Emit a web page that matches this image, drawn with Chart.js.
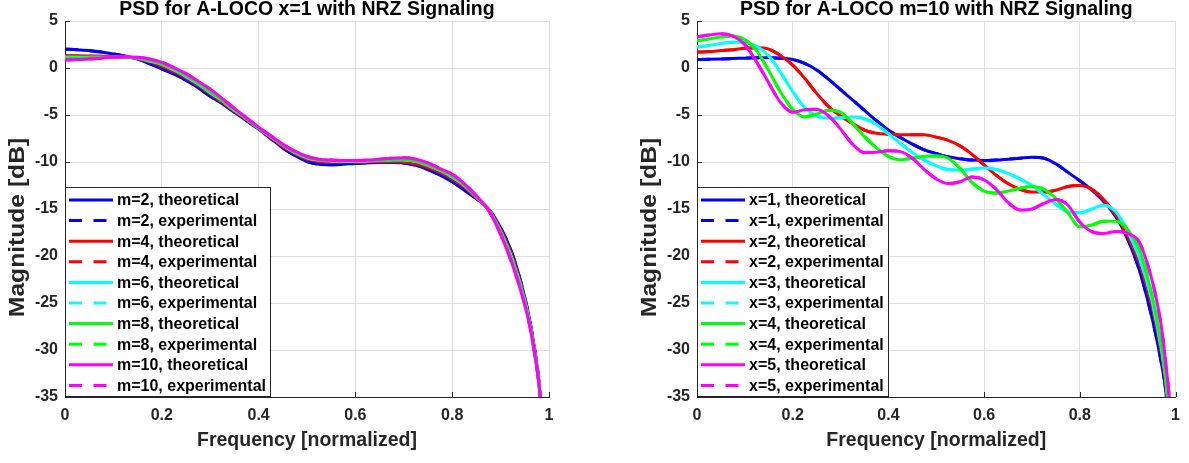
<!DOCTYPE html>
<html>
<head>
<meta charset="utf-8">
<script src="https://cdn.jsdelivr.net/npm/chart.js@4.4.1/dist/chart.umd.min.js"></script>
<style>
  html, body { margin: 0; padding: 0; background: #fff; }
  #wrap { position: relative; width: 1189px; height: 463px; }
  #left { position: absolute; left: 0; top: 0; }
  #right { position: absolute; left: 600px; top: 0; }
</style>
</head>
<body>
<div id="wrap">
  <canvas id="left" width="600" height="463"></canvas>
  <canvas id="right" width="589" height="463"></canvas>
</div>
<script>
// normalized frequency grid shared by every curve
const freq = [0, 0.025, 0.05, 0.075, 0.1, 0.125, 0.15, 0.175, 0.2, 0.225, 0.25, 0.275, 0.3, 0.325, 0.35, 0.375,
  0.4, 0.425, 0.45, 0.475, 0.5, 0.525, 0.55, 0.575, 0.6, 0.625, 0.65, 0.675, 0.7, 0.725, 0.75, 0.775,
  0.8, 0.825, 0.85, 0.875, 0.9, 0.925, 0.95, 0.96, 0.97, 0.98, 0.99, 0.995];

const xTicks = [0, 0.2, 0.4, 0.6, 0.8, 1];
const yTicks = [5, 0, -5, -10, -15, -20, -25, -30, -35];

// left panel: x=1, varying m (dB)
const m2 = [2.0, 1.95, 1.85, 1.7, 1.5, 1.25, 0.95, 0.45, -0.1, -0.65, -1.3, -2.1, -3.0, -3.8, -4.7, -5.6,
  -6.5, -7.5, -8.5, -9.3, -9.95, -10.25, -10.3, -10.25, -10.15, -10.1, -10.05, -10.05, -10.1, -10.35, -10.8, -11.4,
  -12.1, -13.0, -13.9, -15.0, -17.0, -19.9, -24.4, -26.8, -29.8, -33.8, -41, -47];
const m4 = [1.3, 1.3, 1.28, 1.25, 1.22, 1.15, 1.0, 0.65, 0.2, -0.4, -1.05, -1.85, -2.75, -3.65, -4.6, -5.5,
  -6.45, -7.4, -8.35, -9.1, -9.7, -9.95, -10.0, -10.0, -10.0, -10.0, -9.98, -9.95, -10.0, -10.2, -10.6, -11.1,
  -11.8, -12.7, -13.8, -15.05, -17.2, -20.2, -24.6, -27.0, -30.0, -34.0, -41, -47];
const m6 = [1.15, 1.15, 1.15, 1.15, 1.15, 1.15, 1.05, 0.75, 0.4, -0.2, -0.9, -1.7, -2.6, -3.5, -4.5, -5.4,
  -6.4, -7.3, -8.2, -9.0, -9.55, -9.8, -9.9, -9.95, -9.95, -9.9, -9.85, -9.8, -9.8, -9.95, -10.35, -10.9,
  -11.6, -12.5, -13.7, -15.1, -17.4, -20.5, -24.8, -27.1, -30.1, -34.0, -40.5, -47];
const m8 = [1.05, 1.05, 1.08, 1.12, 1.15, 1.15, 1.08, 0.8, 0.45, -0.1, -0.8, -1.6, -2.5, -3.45, -4.45, -5.4,
  -6.4, -7.3, -8.2, -8.95, -9.5, -9.75, -9.85, -9.9, -9.9, -9.85, -9.8, -9.75, -9.75, -9.9, -10.3, -10.85,
  -11.5, -12.45, -13.7, -15.1, -17.5, -20.7, -25.0, -27.2, -30.2, -34.0, -40.5, -47];
const m10 = [0.85, 0.9, 0.95, 1.05, 1.15, 1.2, 1.15, 0.95, 0.6, 0.05, -0.6, -1.4, -2.25, -3.25, -4.3, -5.3,
  -6.3, -7.2, -8.1, -8.85, -9.4, -9.7, -9.8, -9.85, -9.85, -9.8, -9.7, -9.6, -9.55, -9.7, -10.1, -10.7,
  -11.3, -12.3, -13.6, -15.15, -17.7, -21.0, -25.2, -27.4, -30.3, -34.0, -40, -46];

// right panel: m=10, varying x (dB)
const x1 = [0.9, 0.92, 0.95, 1.0, 1.05, 1.1, 1.1, 1.05, 0.9, 0.5, -0.2, -1.2, -2.3, -3.4, -4.5, -5.6,
  -6.6, -7.4, -8.1, -8.7, -9.1, -9.45, -9.65, -9.8, -9.85, -9.8, -9.7, -9.6, -9.5, -9.6, -10.2, -11.1,
  -12.0, -13.0, -14.2, -15.8, -18.2, -21.6, -26.4, -28.7, -31.3, -34.6, -42, -48];
const x2 = [1.7, 1.75, 1.85, 1.95, 2.1, 2.15, 2.0, 1.3, 0.3, -1.1, -2.7, -4.1, -5.1, -5.9, -6.6, -6.95,
  -7.05, -7.1, -7.1, -7.1, -7.35, -7.7, -8.3, -9.2, -10.3, -11.4, -12.3, -12.9, -13.2, -13.2, -13.0, -12.6,
  -12.5, -12.9, -14.0, -15.6, -17.9, -20.8, -25.2, -27.5, -30.2, -33.8, -40, -47];
const x3 = [2.25, 2.4, 2.6, 2.75, 2.7, 2.3, 1.3, -0.5, -2.5, -4.2, -5.1, -5.35, -5.3, -5.2, -5.4, -6.0,
  -7.0, -8.0, -9.0, -9.8, -10.4, -10.8, -10.85, -10.75, -10.65, -10.8, -11.2, -11.8, -12.5, -13.5, -14.5, -15.3,
  -15.4, -15.0, -14.6, -15.3, -17.4, -20.3, -24.6, -27.0, -29.8, -33.4, -40, -47];
const x4 = [2.9, 3.1, 3.3, 3.4, 3.0, 1.8, -0.3, -2.6, -4.4, -5.2, -4.9, -4.5, -4.7, -5.9, -7.3, -8.5,
  -9.4, -9.75, -9.6, -9.4, -9.35, -9.6, -10.7, -12.2, -13.1, -13.3, -13.1, -12.8, -12.6, -12.9, -13.9, -15.4,
  -16.9, -16.7, -16.3, -16.3, -17.2, -19.4, -24.0, -26.4, -29.4, -33.2, -39.5, -47];
const x5 = [3.3, 3.5, 3.65, 3.4, 2.5, 0.6, -1.6, -3.7, -4.7, -4.45, -4.4, -5.1, -6.5, -8.1, -9.0, -8.95,
  -8.8, -8.9, -9.6, -10.8, -11.8, -12.3, -12.1, -11.6, -11.9, -12.9, -14.3, -15.1, -15.0, -14.4, -14.0, -14.6,
  -16.4, -17.4, -17.6, -17.4, -17.6, -18.6, -22.4, -24.6, -27.4, -31.6, -37.5, -45];

// experimental PSDs sit right on top of the theoretical ones in the figure
const leftNames = ['m=2', 'm=4', 'm=6', 'm=8', 'm=10'];
const leftTheo = [m2, m4, m6, m8, m10];
const leftExp = [m2, m4, m6, m8, m10];
const rightNames = ['x=1', 'x=2', 'x=3', 'x=4', 'x=5'];
const rightTheo = [x1, x2, x3, x4, x5];
const rightExp = [x1, x2, x3, x4, x5];

const colors = ['#0000ff', '#ff0000', '#00ffff', '#00ff00', '#ff00ff'];
const FONT = '"Liberation Sans", Arial, Helvetica, sans-serif';
const INK = '#262626';

Chart.defaults.font.family = FONT;

function buildSets(names, theo, exp) {
    const sets = [];
    names.forEach((name, i) => {
        [[theo[i], 'theoretical', []], [exp[i], 'experimental', [13, 11.5]]].forEach(([vals, kind, dash]) => {
            const n = sets.length;
            sets.push({
                label: `${name}, ${kind}`,
                data: vals.map((v, k) => ({ x: freq[k], y: v })),
                borderColor: colors[i],
                backgroundColor: colors[i],
                borderWidth: 3,
                borderDash: dash,
                pointRadius: 0,
                cubicInterpolationMode: 'monotone',
                order: -n // later series drawn on top, like MATLAB
            });
        });
    });
    return sets;
}

// title, rotated y label, inward ticks and the boxed legend
const decor = {
    id: 'decor',
    afterDraw(chart, args, opts) {
        const ctx = chart.ctx;
        const a = chart.chartArea;
        const xs = chart.scales.x, ys = chart.scales.y;
        ctx.save();

        ctx.strokeStyle = INK;
        ctx.lineWidth = 1;
        xTicks.forEach(t => {
            const px = Math.round(xs.getPixelForValue(t)) + 0.5;
            ctx.beginPath(); ctx.moveTo(px, a.bottom); ctx.lineTo(px, a.bottom - 5); ctx.stroke();
        });
        yTicks.forEach(t => {
            const py = Math.round(ys.getPixelForValue(t)) + 0.5;
            ctx.beginPath(); ctx.moveTo(a.left, py); ctx.lineTo(a.left + 5, py); ctx.stroke();
        });

        ctx.fillStyle = '#000';
        ctx.font = `bold 19.5px ${FONT}`;
        ctx.textAlign = 'center';
        ctx.textBaseline = 'alphabetic';
        ctx.fillText(opts.title, (a.left + a.right) / 2, 15);

        ctx.save();
        ctx.translate(a.left - 41, (a.top + a.bottom) / 2 + 18.5);
        ctx.rotate(-Math.PI / 2);
        ctx.scale(1.12, 1);
        ctx.fillStyle = INK;
        ctx.font = `bold 22px ${FONT}`;
        ctx.fillText('Magnitude [dB]', 0, 0);
        ctx.restore();

        // legend in the lower left corner
        const sets = chart.data.datasets;
        const rowH = 20.6;
        const boxH = 210;
        const x0 = a.left, y0 = a.bottom - boxH;
        ctx.fillStyle = '#fff';
        ctx.fillRect(x0, y0, opts.legendWidth, boxH);
        ctx.strokeStyle = INK;
        ctx.strokeRect(x0 + 0.5, y0 + 0.5, opts.legendWidth - 1, boxH - 1);
        ctx.font = `bold 16px ${FONT}`;
        ctx.textAlign = 'left';
        ctx.textBaseline = 'middle';
        sets.forEach((ds, i) => {
            const cy = y0 + 13 + i * rowH;
            ctx.strokeStyle = ds.borderColor;
            ctx.lineWidth = 3;
            ctx.setLineDash(ds.borderDash);
            ctx.beginPath(); ctx.moveTo(x0 + 4, cy); ctx.lineTo(x0 + 48, cy); ctx.stroke();
            ctx.setLineDash([]);
            ctx.fillStyle = '#000';
            ctx.fillText(ds.label, x0 + 52, cy + 1);
        });
        ctx.restore();
    }
};

function makeChart(id, title, sets, padLeft, padRight, legendWidth) {
    return new Chart(document.getElementById(id), {
        type: 'line',
        data: { datasets: sets },
        plugins: [decor],
        options: {
            responsive: false,
            animation: false,
            events: [],
            layout: { padding: { left: padLeft, right: padRight, top: 21, bottom: 0 } },
            plugins: {
                legend: { display: false },
                tooltip: { enabled: false },
                decor: { title: title, legendWidth: legendWidth }
            },
            scales: {
                x: {
                    type: 'linear',
                    min: 0, max: 1,
                    afterBuildTicks: s => { s.ticks = xTicks.map(v => ({ value: v })); },
                    afterFit: s => { s.height = 66; },
                    grid: { color: '#e0e0e0', drawTicks: false },
                    border: { color: INK, width: 1 },
                    ticks: {
                        color: INK, padding: 9, font: { size: 16, weight: 'bold' }, maxRotation: 0,
                        callback: v => String(Math.round(v * 10) / 10)
                    },
                    title: {
                        display: true, text: 'Frequency [normalized]', color: INK,
                        font: { size: 19.5, weight: 'bold' }, padding: { top: 0, bottom: 11 }
                    }
                },
                y: {
                    min: -35, max: 5,
                    afterBuildTicks: s => { s.ticks = yTicks.map(v => ({ value: v })); },
                    afterFit: s => { s.width = 65; },
                    grid: { color: '#e0e0e0', drawTicks: false },
                    border: { color: INK, width: 1 },
                    ticks: { color: INK, padding: 7, font: { size: 16, weight: 'bold' } }
                }
            }
        }
    });
}

makeChart('left', 'PSD for A-LOCO x=1 with NRZ Signaling', buildSets(leftNames, leftTheo, leftExp), 0, 51, 206);
makeChart('right', 'PSD for A-LOCO m=10 with NRZ Signaling', buildSets(rightNames, rightTheo, rightExp), 32, 9, 192);
</script>
</body>
</html>
